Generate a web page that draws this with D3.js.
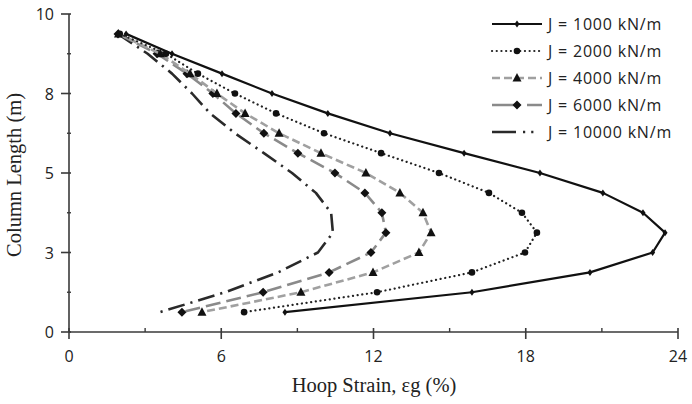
<!DOCTYPE html>
<html><head><meta charset="utf-8">
<script src="https://cdn.jsdelivr.net/npm/d3@7"></script>
<style>body{margin:0;background:#fff}svg{display:block}</style>
</head><body>
<svg id="c" width="692" height="404"></svg>
<script>
const depth = [9.375, 8.75, 8.125, 7.5, 6.875, 6.25, 5.625, 5.0, 4.375, 3.75, 3.125, 2.5, 1.875, 1.25, 0.625];
const j1000  = [2.25, 4.06, 6.03, 8.0, 10.2, 12.65, 15.57, 18.56, 21.04, 22.62, 23.49, 23.0, 20.53, 15.88, 8.51];
const j2000  = [2.0, 3.82, 5.08, 6.54, 8.16, 10.05, 12.3, 14.58, 16.55, 17.85, 18.44, 17.97, 15.88, 12.14, 6.9];
const j4000  = [1.95, 3.6, 4.77, 5.83, 6.94, 8.28, 9.93, 11.7, 13.04, 13.95, 14.27, 13.79, 11.98, 9.14, 5.24];
const j6000  = [1.93, 3.47, 4.65, 5.67, 6.58, 7.68, 9.02, 10.48, 11.66, 12.33, 12.49, 11.9, 10.25, 7.65, 4.45];
const j10000 = [1.93, 3.1, 4.06, 4.85, 5.56, 6.54, 7.68, 8.79, 9.73, 10.33, 10.4, 9.81, 8.24, 6.15, 3.59];
const seriesNames = ["J = 1000 kN/m", "J = 2000 kN/m", "J = 4000 kN/m", "J = 6000 kN/m", "J = 10000 kN/m"];
const xTicks = [0, 6, 12, 18, 24];
const xMinor = [3, 9, 15, 21];
const yTicks = [0, 2.5, 5, 7.5, 10];
const yTickLabels = ["0", "3", "5", "8", "10"];
const yMinor = [1.25, 3.75, 6.25, 8.75];

const svg = d3.select("#c");
const x = d3.scaleLinear().domain([0, 24]).range([69, 678]);
const y = d3.scaleLinear().domain([0, 10]).range([332, 14]);
const axisColor = "#3a3a3a";

const styles = [
  {vals: j1000, color: "#111", width: 2.2, dash: null, legendDash: null, cap: "butt", marker: "sdiamond"},
  {vals: j2000, color: "#222", width: 2.2, dash: "0.1 4.6", legendDash: "0.1 4.6", cap: "round", marker: "circle"},
  {vals: j4000, color: "#a0a0a0", width: 2.6, dash: "8 4", legendDash: "8 4", cap: "butt", marker: "triangle"},
  {vals: j6000, color: "#8a8a8a", width: 2.6, dash: "15 6", legendDash: "28 7 15 10", cap: "butt", marker: "diamond"},
  {vals: j10000, color: "#2a2a2a", width: 2.6, dash: "17 6 2.2 6", legendDash: "24 7 2.2 6 2.2 20", cap: "butt", marker: null}
];

// axes
const gx = svg.append("g").attr("transform", `translate(0,${y(0)})`);
gx.append("line").attr("x1", x(0)).attr("x2", x(24)).attr("stroke", axisColor).attr("stroke-width", 1.6);
gx.selectAll(".mj").data(xTicks).join("line").attr("x1", d => x(d)).attr("x2", d => x(d))
  .attr("y1", -4).attr("y2", 7).attr("stroke", axisColor).attr("stroke-width", 1.6);
gx.selectAll(".mn").data(xMinor).join("line").attr("x1", d => x(d)).attr("x2", d => x(d))
  .attr("y1", -4).attr("y2", 0).attr("stroke", axisColor).attr("stroke-width", 1.4);
gx.selectAll("text").data(xTicks).join("text").attr("x", d => x(d)).attr("y", 30)
  .attr("text-anchor", "middle").attr("font-family", "Open Sans").attr("font-size", 16).attr("fill", "#222")
  .text(d => d);

const gy = svg.append("g").attr("transform", `translate(${x(0)},0)`);
gy.append("line").attr("y1", y(0)).attr("y2", y(10)).attr("stroke", axisColor).attr("stroke-width", 1.6);
gy.selectAll(".mj").data(yTicks).join("line").attr("y1", d => y(d)).attr("y2", d => y(d))
  .attr("x1", -8).attr("x2", 2).attr("stroke", axisColor).attr("stroke-width", 1.6);
gy.selectAll(".mn").data(yMinor).join("line").attr("y1", d => y(d)).attr("y2", d => y(d))
  .attr("x1", -2).attr("x2", 2).attr("stroke", axisColor).attr("stroke-width", 1.4);
gy.selectAll("text").data(yTicks).join("text").attr("x", -15).attr("y", d => y(d) + 6)
  .attr("text-anchor", "end").attr("font-family", "Open Sans").attr("font-size", 16).attr("fill", "#222")
  .text((d, i) => yTickLabels[i]);

svg.append("text").attr("x", 374).attr("y", 392).attr("text-anchor", "middle")
  .attr("font-family", "Liberation Serif").attr("font-size", 20.5).attr("fill", "#222").text("Hoop Strain, εg (%)");
svg.append("text").attr("transform", "translate(21,175) rotate(-90)").attr("text-anchor", "middle")
  .attr("font-family", "Liberation Serif").attr("font-size", 20.5).attr("fill", "#222").text("Column Length (m)");

function drawMarker(g, type, cx, cy) {
  if (type === "sdiamond") {
    g.append("path").attr("d", `M${cx},${cy-3.5}L${cx+2.5},${cy}L${cx},${cy+3.5}L${cx-2.5},${cy}Z`).attr("fill", "#111");
  } else if (type === "diamond") {
    g.append("path").attr("d", `M${cx},${cy-4.5}L${cx+4.5},${cy}L${cx},${cy+4.5}L${cx-4.5},${cy}Z`).attr("fill", "#111");
  } else if (type === "circle") {
    g.append("circle").attr("cx", cx).attr("cy", cy).attr("r", 3.3).attr("fill", "#111");
  } else if (type === "triangle") {
    g.append("path").attr("d", `M${cx},${cy-5}L${cx+4.5},${cy+3.5}L${cx-4.5},${cy+3.5}Z`).attr("fill", "#111");
  }
}

const line = d3.line().x(d => x(d[0])).y(d => y(d[1]));
styles.slice().reverse().forEach(s => {
  const pts = s.vals.map((v, i) => [v, depth[i]]);
  const g = svg.append("g");
  g.append("path").attr("d", line(pts)).attr("fill", "none").attr("stroke", s.color)
    .attr("stroke-width", s.width).attr("stroke-dasharray", s.dash).attr("stroke-linecap", s.cap)
    .attr("stroke-linejoin", "round");
  if (s.marker) pts.forEach(p => drawMarker(g, s.marker, x(p[0]), y(p[1])));
});

// legend
const lg = svg.append("g");
seriesNames.forEach((name, i) => {
  const s = styles[i];
  const cy = 24 + i * 27;
  const g = lg.append("g");
  g.append("line").attr("x1", 492).attr("x2", 542).attr("y1", cy).attr("y2", cy)
    .attr("stroke", s.color).attr("stroke-width", s.width).attr("stroke-dasharray", s.legendDash).attr("stroke-linecap", s.cap);
  if (s.marker) drawMarker(g, s.marker, 517, cy);
  g.append("text").attr("x", 548).attr("y", cy + 5.5).attr("font-family", "Open Sans").attr("font-size", 16)
    .attr("letter-spacing", 0.8).attr("fill", "#222").text(name);
});
</script>
</body></html>
